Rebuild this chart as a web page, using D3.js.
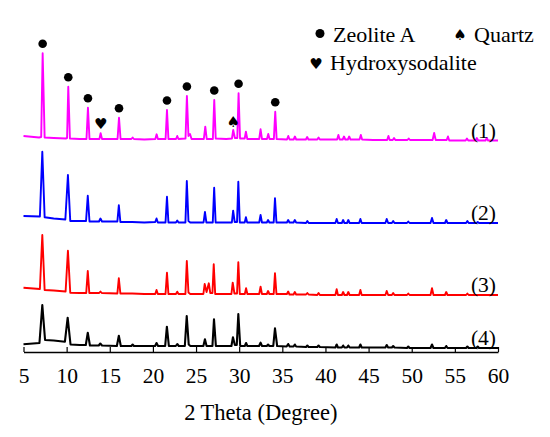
<!DOCTYPE html>
<html lang='en'>

<head>
   <meta charset='UTF-8'>
   <title>XRD patterns</title>
   <script src='https://d3js.org/d3.v7.min.js'></script>
   <style>
      body {
         margin: 0;
         background: #fff;
      }

      svg text {
         font-family: 'Times New Roman', 'Liberation Serif', serif;
         fill: #000;
      }
   </style>
</head>

<body>
   <div id='svg-container'></div>
   <script>

      // 2 Theta (degree) / intensity (a.u.)
      const pattern1 = [[5.0, 5], [6.8, 3.5], [7.05, 4], [7.22, 87.7], [7.45, 3.5], [8.5, 3], [9.9, 2.5], [10.05, 3], [10.19, 54.3], [10.38, 2.5], [11.5, 2], [12.3, 2], [12.47, 33.3], [12.65, 2], [13.8, 2], [13.94, 7.7], [14.1, 2], [15.9, 2], [16.07, 23.3], [16.25, 2], [17.5, 2], [17.65, 3.5], [17.8, 2], [19, 1.5], [20.28, 2], [20.43, 6.7], [20.58, 2], [21.47, 2], [21.63, 31], [21.8, 2], [22.68, 2], [22.82, 5], [22.96, 2], [23.78, 2.5], [23.94, 45], [24.12, 5], [24.3, 7], [24.48, 2], [25.9, 2], [26.07, 14.3], [26.24, 2], [26.95, 2], [27.11, 41], [27.28, 2.5], [28.5, 2], [29.16, 2.5], [29.31, 11], [29.5, 3], [29.78, 3], [29.93, 47.7], [30.1, 2.5], [30.64, 2.5], [30.78, 9.3], [30.94, 2], [31.8, 2], [32.32, 2], [32.48, 11.7], [32.64, 2], [33.22, 2], [33.37, 7], [33.52, 2], [34.02, 2], [34.18, 29.3], [34.34, 2], [35.54, 1.5], [35.69, 5], [35.84, 1.5], [36.31, 1.5], [36.46, 4.5], [36.61, 1.5], [37.73, 1.5], [37.88, 4], [38.03, 1.5], [39.05, 1.5], [39.2, 3.5], [39.35, 1.5], [41.35, 1.5], [41.5, 6], [41.65, 1.5], [42.0, 1.5], [42.15, 4.5], [42.3, 1.5], [42.6, 1.5], [42.75, 4.5], [42.9, 1.5], [43.95, 1.5], [44.1, 6], [44.25, 1.5], [45.5, 1], [47.15, 1], [47.3, 5], [47.45, 1], [47.8, 1], [47.95, 3], [48.1, 1], [49.5, 1], [49.65, 2.5], [49.8, 1], [52.42, 1], [52.6, 8], [52.78, 1], [54.05, 1], [54.2, 4.5], [54.35, 0.5], [56.25, 0.5], [56.4, 2.5], [56.55, 0.5], [57.4, 0.5], [57.55, 3], [57.7, 0.5], [58.55, 0.5], [58.7, 3], [58.85, 0.5], [60, 0.5]];

      const pattern2 = [[5.0, 8], [6.9, 7.5], [7.18, 72.3], [7.45, 6.7], [8.5, 5.5], [9.85, 4.5], [10.15, 49], [10.42, 3], [11.5, 3], [12.25, 3], [12.45, 28.3], [12.65, 2.5], [13.75, 2.5], [13.92, 5.5], [14.1, 2.5], [15.88, 2.5], [16.05, 18.7], [16.23, 2], [17.6, 2], [19, 1.5], [20.27, 2], [20.42, 5.5], [20.57, 1.5], [21.46, 1.5], [21.63, 27.3], [21.8, 1.5], [22.67, 1.5], [22.82, 3.5], [22.97, 1.5], [23.77, 1.5], [23.93, 43], [24.12, 3], [24.33, 1.5], [25.87, 1.5], [26.03, 12], [26.2, 1.5], [26.94, 1.5], [27.1, 36.3], [27.27, 1.5], [28.5, 1.5], [29.15, 1.5], [29.3, 13.3], [29.48, 2], [29.75, 2], [29.9, 42.3], [30.07, 1.5], [30.64, 1.5], [30.78, 6.7], [30.93, 1.5], [32.32, 1.5], [32.48, 9], [32.64, 1.5], [33.2, 1.5], [33.35, 4], [33.5, 1.5], [34.0, 1.5], [34.15, 25.7], [34.32, 1.5], [35.53, 1.5], [35.68, 4], [35.83, 1.5], [36.3, 1.5], [36.45, 4], [36.6, 1.5], [37.75, 1], [37.9, 3], [38.05, 1], [41.15, 1], [41.3, 5], [41.45, 1], [41.9, 1], [42.05, 4], [42.2, 1], [42.5, 1], [42.65, 4], [42.8, 1], [43.9, 1], [44.05, 5], [44.2, 1], [46.95, 1], [47.1, 5], [47.27, 1], [47.7, 1], [47.85, 3], [48.0, 1], [49.45, 1], [49.6, 2.5], [49.75, 1], [52.18, 1], [52.35, 6], [52.52, 1], [53.85, 1], [54.0, 4], [54.15, 1], [56.3, 1], [56.45, 3], [56.6, 1], [57.5, 1], [57.65, 2], [57.8, 1], [60, 1]];

      const pattern3 = [[5.0, 8.3], [6.9, 7], [7.18, 61], [7.45, 6], [8.5, 5.5], [9.88, 4.5], [10.15, 45.3], [10.42, 3.3], [11.5, 3], [12.27, 3], [12.45, 25], [12.63, 3], [13.77, 3], [13.92, 4.5], [14.07, 3], [15.88, 2.5], [16.05, 17.7], [16.23, 2.5], [17.6, 2.5], [19, 2], [20.27, 2], [20.42, 6], [20.57, 2], [21.46, 2], [21.63, 23.3], [21.8, 2], [22.67, 2], [22.82, 4.3], [22.97, 2], [23.77, 2], [23.93, 35], [24.12, 3.5], [24.33, 2], [25.85, 2], [26.0, 12], [26.22, 4], [26.48, 12.7], [26.65, 3], [26.9, 3], [27.05, 31.7], [27.22, 2], [28.5, 2], [29.1, 2], [29.25, 13.3], [29.45, 2.5], [29.75, 2.5], [29.9, 33.7], [30.07, 2], [30.65, 2], [30.8, 7.7], [30.95, 2], [32.32, 2], [32.48, 9.3], [32.64, 2], [33.2, 2], [33.35, 5], [33.5, 2], [34.0, 2], [34.15, 22.7], [34.32, 2], [35.53, 2], [35.68, 4.5], [35.83, 1.5], [36.3, 1.5], [36.45, 4], [36.6, 1.5], [37.75, 1.5], [37.9, 3], [38.05, 1.5], [39.05, 1], [39.2, 3], [39.35, 1], [41.15, 1], [41.3, 6.7], [41.45, 1], [41.9, 1], [42.05, 4], [42.2, 1], [42.5, 1], [42.65, 4], [42.8, 1], [43.9, 1], [44.05, 6], [44.2, 1], [46.95, 1], [47.1, 5], [47.27, 1], [47.7, 1], [47.85, 3], [48.0, 1], [49.45, 1], [49.6, 2.5], [49.75, 1], [52.18, 1], [52.35, 7.7], [52.52, 1], [53.85, 1], [54.0, 4], [54.15, 1], [56.3, 1], [56.45, 2.5], [56.6, 1], [60, 1]];

      const pattern4 = [[5.0, 4.7], [6.85, 6], [7.18, 44], [7.5, 9], [8.5, 8.5], [9.8, 7.3], [10.12, 31.3], [10.45, 4.5], [11.5, 4], [12.22, 4], [12.45, 16.3], [12.7, 3.5], [13.72, 3.5], [13.9, 5.5], [14.1, 3.5], [15.82, 3], [16.05, 13.3], [16.28, 3], [17.5, 3], [17.65, 4.5], [17.8, 3], [19, 3], [20.25, 3], [20.42, 6], [20.6, 3], [21.42, 3], [21.62, 22.3], [21.85, 3], [22.65, 3], [22.82, 5], [23.0, 3], [23.7, 3], [23.92, 33], [24.15, 4.5], [24.35, 3], [25.85, 3], [26.03, 9.7], [26.22, 3], [26.9, 3], [27.08, 29.7], [27.3, 3], [28.5, 3], [29.1, 3], [29.28, 11.7], [29.5, 4], [29.72, 4], [29.9, 35], [30.12, 3], [30.65, 3], [30.8, 6], [30.95, 3], [32.3, 3], [32.48, 6.3], [32.65, 3], [33.2, 3], [33.35, 4.5], [33.5, 3], [33.95, 3], [34.15, 20.7], [34.4, 3], [35.5, 2.5], [35.68, 5], [35.85, 2.5], [36.3, 2.5], [36.45, 4.5], [36.6, 2.5], [37.75, 2], [37.9, 3.5], [38.05, 2], [39.05, 2], [39.2, 3.5], [39.35, 2], [41.15, 1.5], [41.3, 4.5], [41.45, 1.5], [41.9, 1.5], [42.05, 3.5], [42.2, 1.5], [42.5, 1.5], [42.65, 3.5], [42.8, 1.5], [43.9, 1.5], [44.05, 4.5], [44.2, 1.5], [46.95, 1.5], [47.1, 4], [47.27, 1.5], [47.7, 1.5], [47.85, 3], [48.0, 1.5], [49.45, 1], [49.6, 2.5], [49.75, 1], [52.18, 1], [52.35, 4.5], [52.52, 1], [53.85, 1], [54.0, 3], [54.15, 1], [56.3, 1], [56.45, 2.5], [56.6, 1], [57.5, 1], [57.65, 2.5], [57.8, 1], [60, 1]];

      const patterns = [pattern1, pattern2, pattern3, pattern4];
      const offsets = [211, 128, 56, 3]; // vertical stacking of the patterns
      const seriesLabels = ['(1)', '(2)', '(3)', '(4)'];
      const xTicks = [5, 10, 15, 20, 25, 30, 35, 40, 45, 50, 55, 60];

      // phase markers (2 Theta positions on pattern (1))
      const zeoliteA = [7.22, 10.19, 12.47, 16.07, 21.63, 23.94, 27.11, 29.93, 34.18];
      const hydroxysodalite = [13.94];
      const quartz = [29.31];
      const legendNames = ['Zeolite A', 'Quartz', 'Hydroxysodalite'];

      const colours = ['#ff00ff', '#0000ff', '#ff0000', '#000000'];

      const W = 550, H = 437;
      const canvas = d3.select('#svg-container').append('svg').attr('width', W).attr('height', H);

      const x = d3.scaleLinear().domain([5, 60]).range([23.5, 498]);
      const y = d3.scaleLinear().domain([0, 320]).range([352, 32]);

      // x axis, ticks pointing inwards
      const bottomAxisCall = d3.axisBottom(x).tickValues(xTicks).tickSizeInner(-5).tickSizeOuter(0).tickFormat(d3.format('d'));
      const xAxis = canvas.append('g').attr('transform', `translate(0, ${y(0)})`).call(bottomAxisCall);
      xAxis.select('.domain').attr('stroke', '#000').attr('stroke-width', 1.5);
      xAxis.selectAll('.tick line').attr('stroke', '#000').attr('stroke-width', 1.2);
      xAxis.selectAll('.tick text')
         .attr('y', 31)
         .attr('dy', 0)
         .attr('font-size', '21.5px')
         .style('font-family', "'Times New Roman', 'Liberation Serif', serif");

      canvas.append('text')
         .attr('x', (x(5) + x(60)) / 2)
         .attr('y', 420)
         .attr('text-anchor', 'middle')
         .attr('font-size', '22.5px')
         .text('2 Theta (Degree)');

      // patterns
      patterns.forEach((p, i) => {
         const line = d3.line()
            .x(d => x(d[0]))
            .y(d => y(d[1] + offsets[i]));
         canvas.append('path')
            .attr('fill', 'none')
            .attr('stroke', colours[i])
            .attr('stroke-width', i == 3 ? 2.1 : 1.9)
            .attr('stroke-linejoin', 'round')
            .attr('d', line(p));

         const last = p[p.length - 1];
         canvas.append('text')
            .attr('x', x(60) - 2)
            .attr('y', y(last[1] + offsets[i]) - 3)
            .attr('text-anchor', 'end')
            .attr('font-size', '21.5px')
            .text(seriesLabels[i]);
      });

      const peakTop = t => {
         const pt = pattern1.reduce((a, b) => Math.abs(b[0] - t) < Math.abs(a[0] - t) ? b : a);
         return y(pt[1] + offsets[0]);
      };

      canvas.selectAll('circle.zeo').data(zeoliteA)
         .enter()
         .append('circle')
         .attr('class', 'zeo')
         .attr('cx', d => x(d))
         .attr('cy', d => peakTop(d) - 9.5)
         .attr('r', 4.3)
         .attr('fill', '#000');

      const glyph = (sel, ch) => sel
         .attr('text-anchor', 'middle')
         .attr('font-size', '15px')
         .style('font-family', "'DejaVu Sans', sans-serif")
         .text(ch);

      canvas.selectAll('text.sod').data(hydroxysodalite)
         .enter()
         .append('text')
         .attr('class', 'sod')
         .attr('x', d => x(d))
         .attr('y', d => peakTop(d) - 4.5)
         .call(glyph, '\u2665');

      canvas.selectAll('text.qtz').data(quartz)
         .enter()
         .append('text')
         .attr('class', 'qtz')
         .attr('x', d => x(d))
         .attr('y', d => peakTop(d) - 3.5)
         .call(glyph, '\u2660');

      // legend
      const legend = canvas.append('g');
      legend.append('circle').attr('cx', 320).attr('cy', 33.5).attr('r', 4.5).attr('fill', '#000');
      legend.append('text').attr('x', 333).attr('y', 41.5).attr('font-size', '22px').text(legendNames[0]);
      legend.append('text').attr('x', 460).attr('y', 40).call(glyph, '\u2660');
      legend.append('text').attr('x', 474).attr('y', 41.5).attr('font-size', '22px').text(legendNames[1]);
      legend.append('text').attr('x', 316).attr('y', 68.5).call(glyph, '\u2665');
      legend.append('text').attr('x', 330).attr('y', 70).attr('font-size', '22px').text(legendNames[2]);

   </script>
</body>

</html>
